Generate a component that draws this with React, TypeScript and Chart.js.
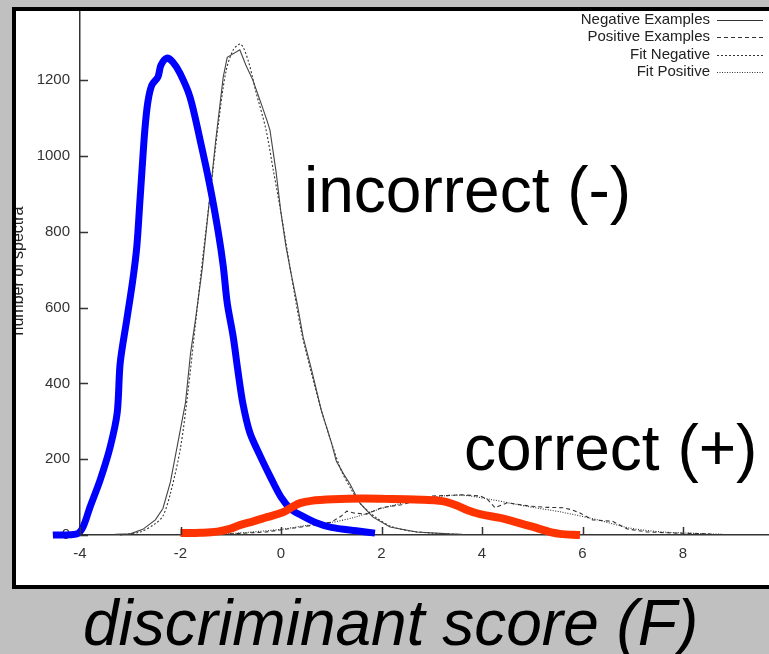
import { useEffect, useRef } from "react";
import { Chart, registerables } from "chart.js";
Chart.register(...registerables);

const xTicks = [-4, -2, 0, 2, 4, 6, 8];
const yTicks = [0, 200, 400, 600, 800, 1000, 1200];

const negX = [-3.3, -3.0, -2.75, -2.5, -2.35, -2.2, -2.05, -1.9, -1.8, -1.7, -1.57, -1.45, -1.3, -1.15, -1.07, -0.82, -0.7, -0.56, -0.4, -0.28, -0.22, -0.1, 0.0, 0.1, 0.2, 0.32, 0.44, 0.6, 0.8, 1.0, 1.1, 1.25, 1.37, 1.57, 1.83, 2.17, 2.7, 3.35, 3.6];
const negY = [2, 3, 15, 40, 70, 140, 245, 350, 480, 570, 700, 850, 1040, 1208, 1260, 1280, 1240, 1200, 1140, 1094, 1068, 960, 849, 760, 690, 612, 522, 440, 330, 245, 195, 160, 135, 84, 47, 21, 8, 3, 2];

const posX = [-2.0, -1.0, -0.3, 0.4, 1.0, 1.2, 1.31, 1.45, 1.7, 2.0, 2.4, 2.7, 3.0, 3.3, 3.6, 3.96, 4.1, 4.26, 4.5, 4.96, 5.3, 5.61, 5.8, 5.95, 6.2, 6.6, 6.89, 7.28, 7.9, 8.54];
const posY = [0, 3, 8, 21, 34, 50, 63, 58, 55, 72, 80, 90, 103, 104, 106, 103, 95, 72, 85, 76, 73, 72, 66, 58, 40, 36, 16, 8, 5, 3];

const fitNegX = [-3.2, -2.8, -2.5, -2.35, -2.2, -2.0, -1.85, -1.7, -1.55, -1.4, -1.25, -1.1, -0.95, -0.8, -0.65, -0.5, -0.3, -0.15, 0.0, 0.2, 0.4, 0.6, 0.8, 1.0, 1.2, 1.4, 1.6, 1.9, 2.2, 2.6, 3.0, 3.5];
const fitNegY = [0, 8, 30, 50, 110, 230, 380, 560, 740, 910, 1080, 1220, 1280, 1295, 1250, 1170, 1070, 960, 850, 690, 540, 430, 330, 245, 170, 120, 80, 45, 22, 10, 5, 2];

const fitPosX = [-2.0, -1.0, 0.0, 0.5, 1.0, 1.5, 2.0, 2.6, 3.0, 3.6, 4.16, 4.6, 4.96, 5.6, 6.3, 6.95, 7.6, 8.3, 8.8];
const fitPosY = [0, 4, 15, 25, 33, 48, 70, 90, 100, 105, 94, 83, 74, 60, 40, 18, 8, 4, 2];

const incorrectX = [-4.54, -4.06, -3.94, -3.80, -3.60, -3.40, -3.26, -3.20, -3.07, -2.95, -2.87, -2.81, -2.77, -2.71, -2.65, -2.57, -2.45, -2.39, -2.27, -2.15, -2.01, -1.81, -1.61, -1.41, -1.25, -1.15, -1.07, -0.95, -0.86, -0.76, -0.62, -0.42, -0.2, 0.0, 0.2, 0.4, 0.7, 1.0, 1.5, 1.87];
const incorrectY = [0, 3, 21, 74, 145, 232, 322, 454, 567, 672, 760, 876, 955, 1068, 1142, 1187, 1208, 1239, 1258, 1247, 1218, 1155, 1042, 918, 800, 710, 612, 522, 435, 348, 270, 210, 150, 100, 68, 52, 32, 20, 11, 5];

const correctX = [-2.0, -1.6, -1.27, -1.0, -0.82, -0.55, -0.28, 0.04, 0.2, 0.38, 0.6, 1.03, 1.6, 2.2, 2.8, 3.1, 3.3, 3.5, 3.7, 3.96, 4.36, 4.62, 5.0, 5.3, 5.55, 5.95];
const correctY = [5, 6, 9, 17, 26, 36, 47, 60, 72, 84, 90, 94, 96, 95, 93, 91, 87, 78, 66, 55, 45, 36, 22, 10, 3, 0];

const X_MIN = -4;
const X_MAX = 9.711;
const Y_MIN = 0;
const Y_MAX = 1385;

const pts = (xs: number[], ys: number[]) => xs.map((x, i) => ({ x, y: ys[i] }));

const FONT = '"Liberation Sans", Arial, Helvetica, sans-serif';

const decoPlugin = {
  id: "deco",
  beforeDraw(chart: any) {
    const { ctx, width, height } = chart;
    ctx.save();
    ctx.fillStyle = "#c0c0c0";
    ctx.fillRect(0, 0, width, height);
    ctx.fillStyle = "#ffffff";
    ctx.fillRect(14, 9, width, 578);
    ctx.beginPath();
    ctx.rect(16, 0, 60, height);
    ctx.clip();
    ctx.translate(23, 271);
    ctx.rotate(-Math.PI / 2);
    ctx.font = `16px ${FONT}`;
    ctx.fillStyle = "#222";
    ctx.textAlign = "center";
    ctx.textBaseline = "alphabetic";
    ctx.fillText("number of spectra", 0, 0);
    ctx.restore();
  },
  afterDraw(chart: any) {
    const { ctx } = chart;
    const xs = chart.scales.x;
    const ys = chart.scales.y;
    const area = chart.chartArea;
    ctx.save();
    ctx.strokeStyle = "#333";
    ctx.lineWidth = 1.5;
    ctx.beginPath();
    xTicks.forEach((v) => {
      const px = Math.round(xs.getPixelForValue(v)) + 0.5;
      ctx.moveTo(px, area.bottom);
      ctx.lineTo(px, area.bottom - 8);
    });
    yTicks.forEach((v) => {
      const py = Math.round(ys.getPixelForValue(v)) + 0.5;
      ctx.moveTo(area.left, py);
      ctx.lineTo(area.left + 8, py);
    });
    ctx.stroke();

    const items = chart.data.datasets.filter((d: any) => d.inLegend);
    ctx.font = `15px ${FONT}`;
    ctx.fillStyle = "#222";
    ctx.textAlign = "right";
    ctx.textBaseline = "middle";
    items.forEach((d: any, i: number) => {
      const y = 20 + i * 17.3;
      ctx.fillText(d.label, 710, y);
      ctx.beginPath();
      ctx.setLineDash(d.borderDash || []);
      ctx.strokeStyle = "#333";
      ctx.lineWidth = 1.2;
      ctx.moveTo(717, Math.round(y) + 0.5);
      ctx.lineTo(763, Math.round(y) + 0.5);
      ctx.stroke();
    });
    ctx.setLineDash([]);

    ctx.fillStyle = "#000";
    ctx.textAlign = "left";
    ctx.textBaseline = "alphabetic";
    ctx.font = `64px ${FONT}`;
    ctx.fillText("incorrect (-)", 304, 212);
    ctx.fillText("correct (+)", 464, 470);
    ctx.font = `italic 64px ${FONT}`;
    ctx.fillText("discriminant score (F)", 83, 645);

    ctx.strokeStyle = "#000";
    ctx.lineWidth = 4;
    ctx.strokeRect(14, 9, 800, 578);
    ctx.restore();
  },
};

export default function App() {
  const ref = useRef<HTMLCanvasElement | null>(null);
  useEffect(() => {
    document.body.style.margin = "0";
    document.body.style.background = "#c0c0c0";
    const canvas = ref.current!;
    const thin = { pointRadius: 0, fill: false, clip: false as any, tension: 0, borderColor: "#333", borderWidth: 1.1 };
    const chart = new Chart(canvas, {
      type: "line",
      data: {
        datasets: [
          { label: "correct (+)", data: pts(correctX, correctY), borderColor: "#ff3300", borderWidth: 8, pointRadius: 0, fill: false, clip: false as any, tension: 0.35, borderCapStyle: "butt", borderJoinStyle: "round" },
          { label: "incorrect (-)", data: pts(incorrectX, incorrectY), borderColor: "#0000ff", borderWidth: 7, pointRadius: 0, fill: false, clip: false as any, tension: 0.3, borderCapStyle: "butt", borderJoinStyle: "round" },
          { ...thin, label: "Negative Examples", data: pts(negX, negY), inLegend: true, borderColor: "#444" } as any,
          { ...thin, label: "Positive Examples", data: pts(posX, posY), inLegend: true, borderDash: [4, 3] } as any,
          { ...thin, label: "Fit Negative", data: pts(fitNegX, fitNegY), inLegend: true, borderDash: [2, 2], tension: 0.3 } as any,
          { ...thin, label: "Fit Positive", data: pts(fitPosX, fitPosY), inLegend: true, borderDash: [1, 1.5], tension: 0.3 } as any,
        ],
      },
      options: {
        responsive: false,
        animation: false,
        events: [],
        layout: { autoPadding: false, padding: { top: 10, left: 0, right: 0, bottom: 0 } },
        plugins: { legend: { display: false }, tooltip: { enabled: false }, title: { display: false } },
        scales: {
          x: {
            type: "linear",
            bounds: "data",
            afterDataLimits: (s: any) => { s.min = X_MIN; s.max = X_MAX; },
            afterBuildTicks: (s: any) => { s.ticks = xTicks.map((v) => ({ value: v })); s.min = X_MIN; s.max = X_MAX; },
            afterFit: (s: any) => { s.height = 119; s.paddingLeft = 0; s.paddingRight = 0; s.paddingTop = 0; s.paddingBottom = 0; },
            grid: { display: false, drawTicks: false },
            border: { display: true, color: "#333", width: 1.5 },
            ticks: { color: "#333", font: { family: FONT, size: 15 }, padding: 10, callback: (v: any) => String(v), maxRotation: 0, autoSkip: false },
          },
          y: {
            type: "linear",
            bounds: "data",
            afterDataLimits: (s: any) => { s.min = Y_MIN; s.max = Y_MAX; },
            afterBuildTicks: (s: any) => { s.ticks = yTicks.map((v) => ({ value: v })); s.min = Y_MIN; s.max = Y_MAX; },
            afterFit: (s: any) => { s.width = 80; s.paddingLeft = 0; s.paddingRight = 0; s.paddingTop = 0; s.paddingBottom = 0; },
            grid: { display: false, drawTicks: false },
            border: { display: true, color: "#333", width: 1.5 },
            ticks: { color: "#333", font: { family: FONT, size: 15 }, padding: 10, callback: (v: any) => String(v), autoSkip: false },
          },
        },
      },
      plugins: [decoPlugin],
    } as any);
    return () => chart.destroy();
  }, []);
  return (
    <div style={{ position: "fixed", left: 0, top: 0, width: 769, height: 654, overflow: "hidden", background: "#c0c0c0" }}>
      <canvas ref={ref} width={769} height={654} style={{ display: "block" }} />
    </div>
  );
}
